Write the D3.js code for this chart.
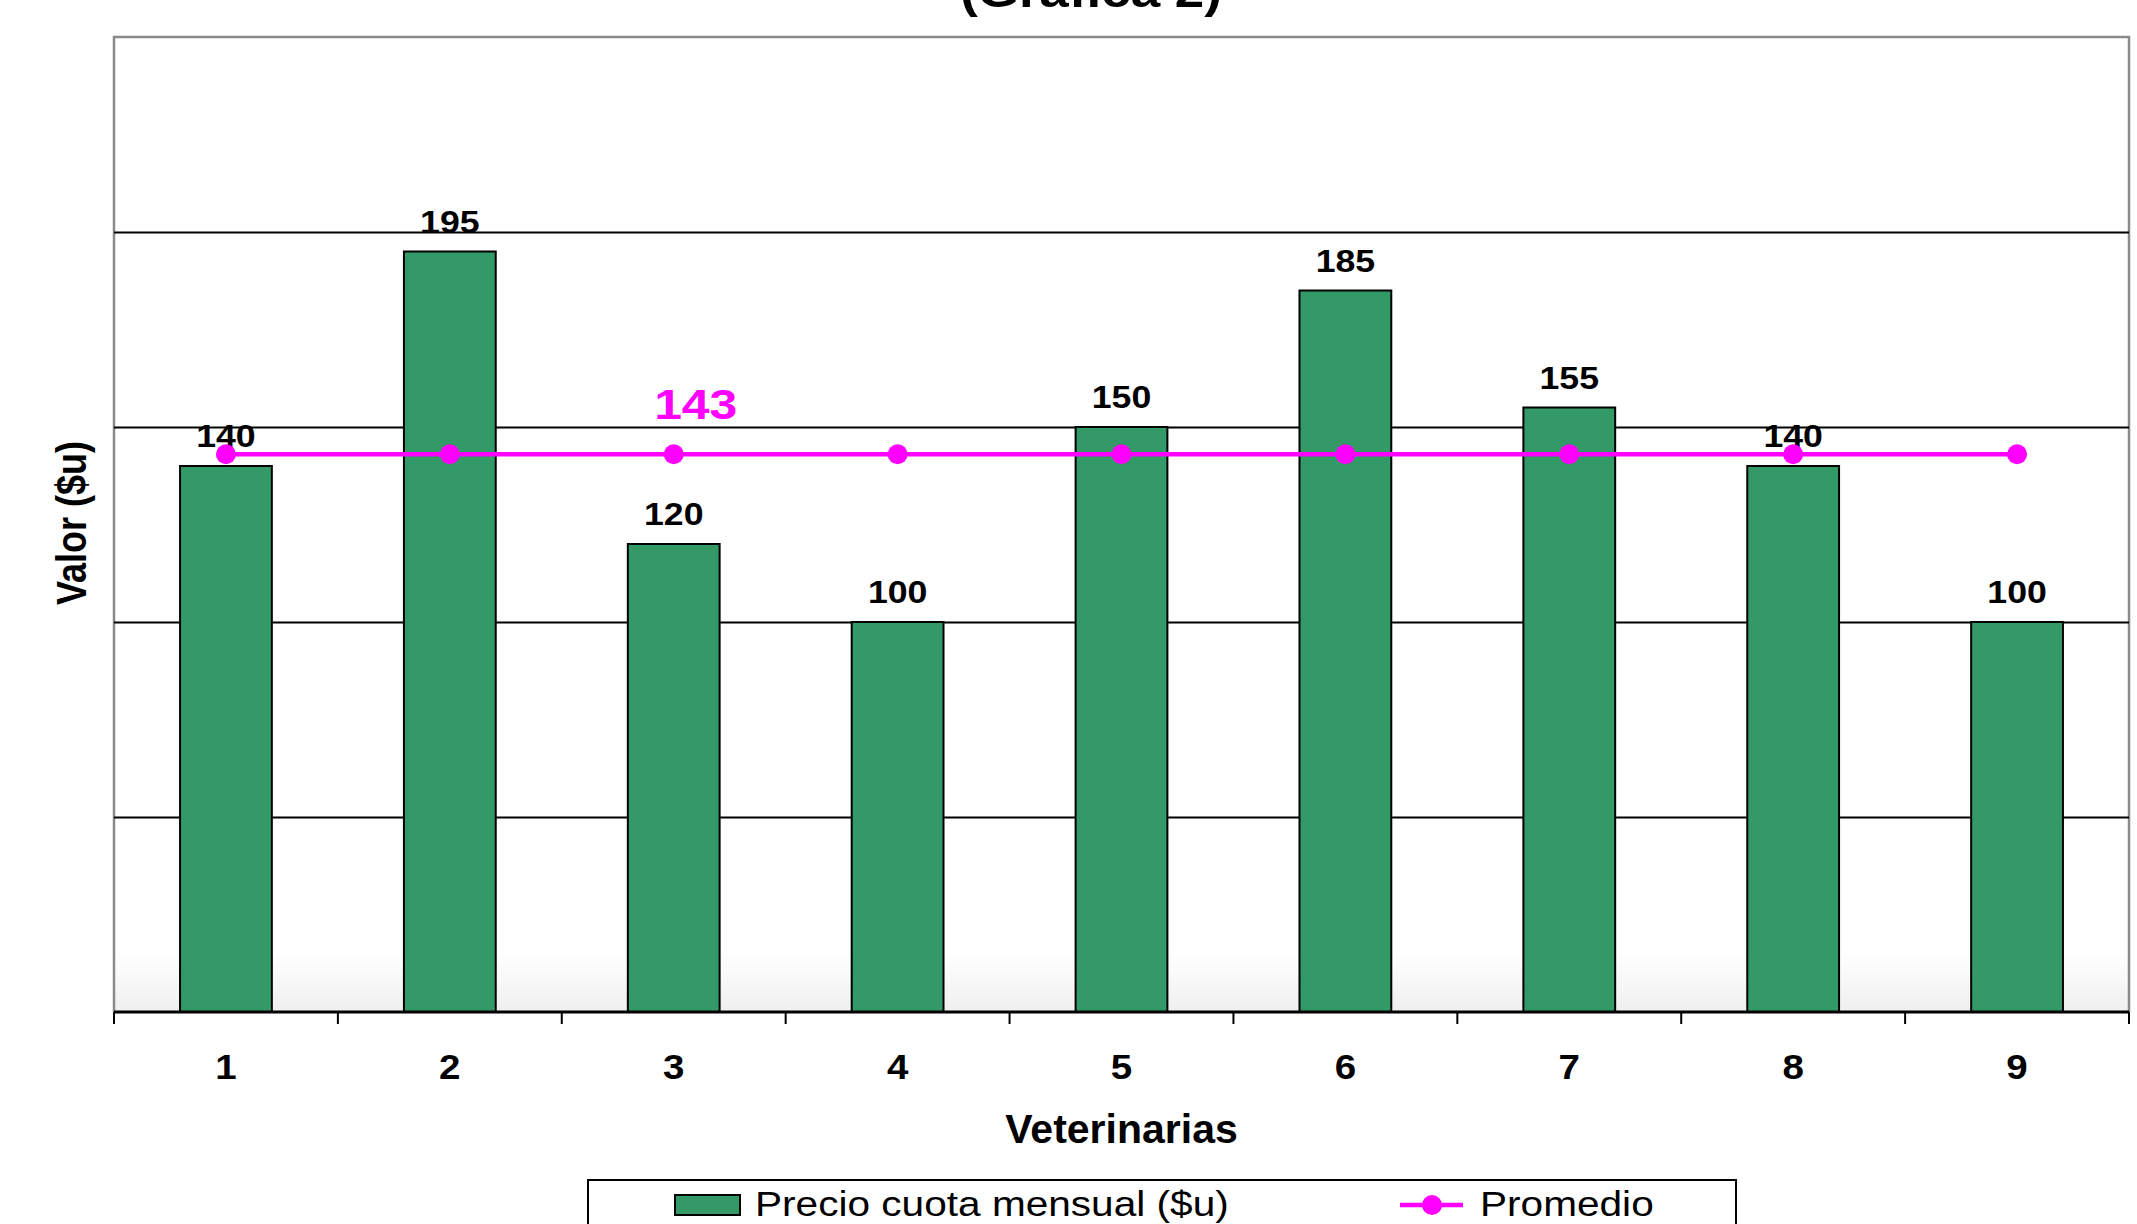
<!DOCTYPE html>
<html>
<head>
<meta charset="utf-8">
<script src="https://cdn.jsdelivr.net/npm/d3@7"></script>
<style>
  body { margin: 0; background: #fff; }
  svg { display: block; font-family: "Liberation Sans", Arial, sans-serif; }
</style>
</head>
<body>
<div id="chart"></div>
<script>
// data
const veterinarias = ["1", "2", "3", "4", "5", "6", "7", "8", "9"];
const precioCuota = [140, 195, 120, 100, 150, 185, 155, 140, 100];
const promedio = [143, 143, 143, 143, 143, 143, 143, 143, 143];
const gridValues = [50, 100, 150, 200];
const promedioLabel = "143";

const W = 2137, H = 1224;
const plot = { left: 114, top: 37, right: 2129, bottom: 1012 };
const green = "#339966", magenta = "#ff00ff";

const svg = d3.select("#chart").append("svg")
  .attr("width", W)
  .attr("height", H);

// text is a little wider than plain Arial in the original
function addText(g, x, y, txt, size, sx) {
  return g.append("text")
    .attr("transform", `translate(${x},${y}) scale(${sx},1)`)
    .attr("text-anchor", "middle")
    .style("font-size", size + "px")
    .style("font-weight", "bold")
    .text(txt);
}

const x = d3.scaleBand()
  .domain(veterinarias)
  .range([plot.left, plot.right])
  .paddingInner(0.59)
  .paddingOuter(0.295);

const y = d3.scaleLinear()
  .domain([0, 250])
  .range([plot.bottom, plot.top]);

// plot background with a light fade at the bottom
const grad = svg.append("defs").append("linearGradient")
  .attr("id", "bg").attr("x1", 0).attr("y1", 0).attr("x2", 0).attr("y2", 1);
grad.append("stop").attr("offset", "0.94").attr("stop-color", "#ffffff");
grad.append("stop").attr("offset", "1").attr("stop-color", "#efefef");

svg.append("rect")
  .attr("x", plot.left).attr("y", plot.top)
  .attr("width", plot.right - plot.left)
  .attr("height", plot.bottom - plot.top)
  .attr("fill", "url(#bg)");

// gray frame on top, left, right
svg.append("path")
  .attr("d", `M${plot.left},${plot.bottom}V${plot.top}H${plot.right}V${plot.bottom}`)
  .attr("fill", "none")
  .attr("stroke", "#8a8a8a")
  .attr("stroke-width", 2.5);

// gridlines
svg.append("g")
  .attr("transform", `translate(${plot.left},0)`)
  .call(d3.axisLeft(y).tickValues(gridValues).tickSize(-(plot.right - plot.left)).tickFormat(""))
  .call((g) => g.select(".domain").remove())
  .call((g) => g.selectAll(".tick line").attr("stroke", "#000").attr("stroke-width", 2));

// bars
svg.selectAll("rect.bar")
  .data(precioCuota)
  .enter()
  .append("rect")
  .attr("class", "bar")
  .attr("x", (d, i) => x(veterinarias[i]))
  .attr("y", (d) => y(d))
  .attr("width", x.bandwidth())
  .attr("height", (d) => y(0) - y(d))
  .attr("fill", green)
  .attr("stroke", "#000")
  .attr("stroke-width", 2);

// x axis: ticks sit between categories
const step = x.step();
const boundaries = d3.range(veterinarias.length + 1).map((i) => plot.left + i * step);
const xAxis = svg.append("g");
xAxis.append("line")
  .attr("x1", plot.left).attr("x2", plot.right)
  .attr("y1", plot.bottom).attr("y2", plot.bottom)
  .attr("stroke", "#000").attr("stroke-width", 3);
xAxis.selectAll("line.tick")
  .data(boundaries)
  .enter()
  .append("line")
  .attr("class", "tick")
  .attr("x1", (d) => d).attr("x2", (d) => d)
  .attr("y1", plot.bottom).attr("y2", plot.bottom + 12)
  .attr("stroke", "#000").attr("stroke-width", 2);
veterinarias.forEach((v) => {
  addText(xAxis, x(v) + x.bandwidth() / 2, 1079, v, 35, 1.1);
});

// bar value labels
const labels = svg.append("g");
precioCuota.forEach((d, i) => {
  addText(labels, x(veterinarias[i]) + x.bandwidth() / 2, y(d) - 19, d, 31, 1.15);
});

// promedio line
const cx = (i) => x(veterinarias[i]) + x.bandwidth() / 2;
svg.append("path")
  .datum(promedio)
  .attr("d", d3.line().x((d, i) => cx(i)).y((d) => y(d)))
  .attr("fill", "none")
  .attr("stroke", magenta)
  .attr("stroke-width", 4.5);
svg.selectAll("circle.prom")
  .data(promedio)
  .enter()
  .append("circle")
  .attr("class", "prom")
  .attr("cx", (d, i) => cx(i))
  .attr("cy", (d) => y(d))
  .attr("r", 10)
  .attr("fill", magenta);

addText(svg, cx(2) + 22, y(promedio[2]) - 35, promedioLabel, 43, 1.16)
  .attr("fill", magenta);

// axis titles
addText(svg, (plot.left + plot.right) / 2, 1143, "Veterinarias", 41, 1.0);
svg.append("text")
  .attr("transform", "translate(86,523) rotate(-90) scale(1,1.2)")
  .attr("text-anchor", "middle")
  .style("font-size", "36px")
  .style("font-weight", "bold")
  .text("Valor ($u)");

// chart title, mostly cut off at the top as in the original
addText(svg, 1091, 7, "(Gráfica 2)", 46, 1.15);

// legend
const legend = svg.append("g");
legend.append("rect")
  .attr("x", 588).attr("y", 1180)
  .attr("width", 1736 - 588).attr("height", 100)
  .attr("fill", "#fff")
  .attr("stroke", "#000").attr("stroke-width", 2);
legend.append("rect")
  .attr("x", 675).attr("y", 1195)
  .attr("width", 65).attr("height", 20)
  .attr("fill", green)
  .attr("stroke", "#000").attr("stroke-width", 2);
legend.append("text")
  .attr("transform", "translate(755,1216) scale(1.16,1)")
  .style("font-size", "35px")
  .text("Precio cuota mensual ($u)");
legend.append("line")
  .attr("x1", 1400).attr("x2", 1463)
  .attr("y1", 1205).attr("y2", 1205)
  .attr("stroke", magenta).attr("stroke-width", 4.5);
legend.append("circle")
  .attr("cx", 1432).attr("cy", 1205).attr("r", 10)
  .attr("fill", magenta);
legend.append("text")
  .attr("transform", "translate(1480,1216) scale(1.16,1)")
  .style("font-size", "35px")
  .text("Promedio");
</script>
</body>
</html>
